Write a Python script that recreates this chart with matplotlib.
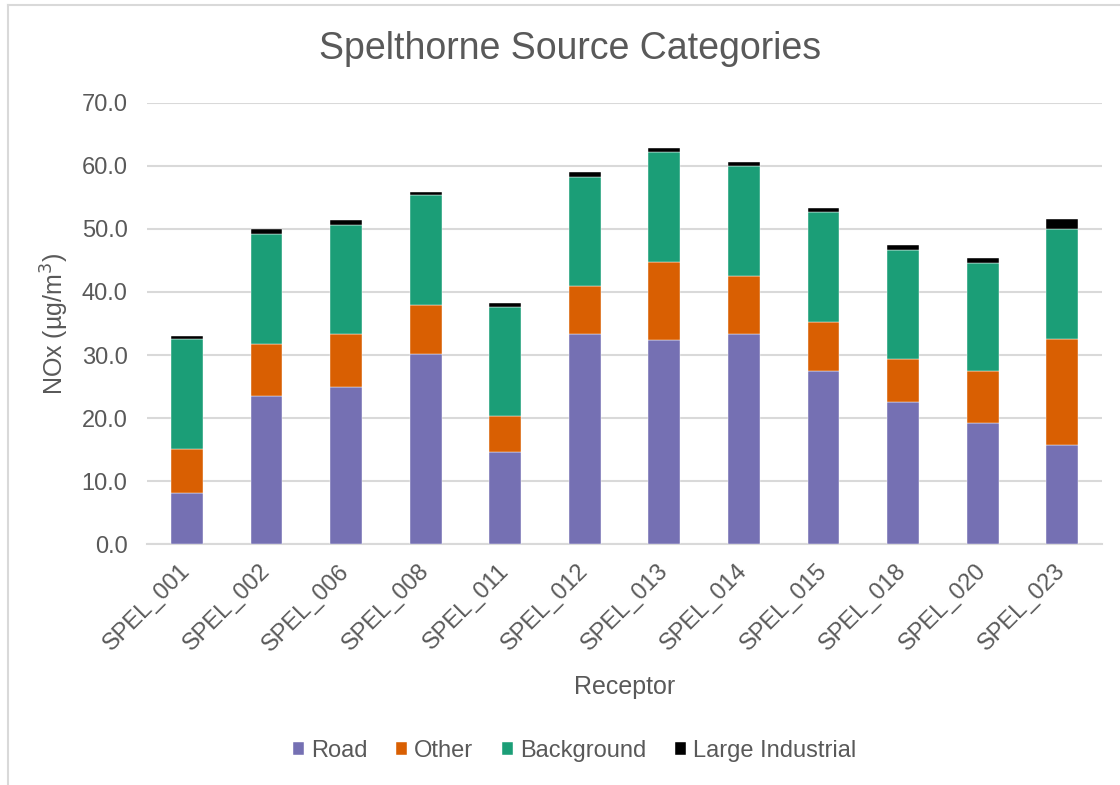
import matplotlib.pyplot as plt
import numpy as np
from matplotlib.lines import Line2D

plt.rcParams['font.family'] = ['Liberation Sans', 'DejaVu Sans']

receptors = ['SPEL_001', 'SPEL_002', 'SPEL_006', 'SPEL_008', 'SPEL_011', 'SPEL_012',
             'SPEL_013', 'SPEL_014', 'SPEL_015', 'SPEL_018', 'SPEL_020', 'SPEL_023']
road = [8.1, 23.5, 24.9, 30.2, 14.6, 33.4, 32.4, 33.3, 27.4, 22.5, 19.2, 15.8]
other = [7.0, 8.3, 8.5, 7.7, 5.8, 7.5, 12.4, 9.3, 7.9, 6.9, 8.2, 16.8]
background = [17.5, 17.4, 17.2, 17.4, 17.3, 17.3, 17.4, 17.4, 17.4, 17.3, 17.2, 17.4]
industrial = [0.4, 0.8, 0.8, 0.6, 0.6, 0.8, 0.6, 0.6, 0.6, 0.8, 0.8, 1.5]

series = [('Road', road, '#7570b3'), ('Other', other, '#d95f02'),
          ('Background', background, '#1b9e77'), ('Large Industrial', industrial, '#000000')]

txt = '#595959'
grid = '#d9d9d9'

fig = plt.figure(figsize=(11.2, 7.85), dpi=100)
ax = fig.add_axes([0.1313, 0.3066, 0.8527, 0.5625])

x = np.arange(len(receptors))
bottom = np.zeros(len(receptors))
for name, vals, col in series:
    ax.bar(x, vals, 0.4, bottom=bottom, color=col, label=name, zorder=3,
           edgecolor='white', linewidth=0.3)
    bottom += np.array(vals)

ax.set_xlim(-0.5, len(receptors) - 0.5)
ax.set_ylim(0, 70)
ax.set_yticks(np.arange(0, 71, 10))
ax.set_yticklabels([f'{v:.1f}' for v in np.arange(0, 71, 10)])
ax.yaxis.grid(True, color=grid, linewidth=1.5, zorder=0)
for s in ['top', 'right', 'left']:
    ax.spines[s].set_visible(False)
ax.spines['bottom'].set_color(grid)
ax.spines['bottom'].set_linewidth(1.5)
ax.tick_params(axis='both', length=0, labelsize=17, labelcolor=txt)
ax.tick_params(axis='y', pad=14)
ax.tick_params(axis='x', pad=17)
ax.set_xticks(x)
ax.set_xticklabels(receptors, rotation=45, ha='right', va='center', rotation_mode='anchor')

ax.set_ylabel('NOx (µg/m$^3$)', fontsize=18, color=txt, labelpad=8)
ax.set_xlabel('Receptor', fontsize=18, color=txt, labelpad=14)
fig.text(0.509, 0.938, 'Spelthorne Source Categories', fontsize=27, color=txt,
         ha='center', va='center')

fig.legend(loc='center', bbox_to_anchor=(0.513, 0.043), ncol=4, frameon=False,
           fontsize=17, labelcolor=txt, handlelength=0.47, handleheight=0.47,
           handletextpad=0.3, columnspacing=1.2)

# chart border
fig.add_artist(Line2D([8 / 1120, 1.0], [1 - 5 / 785] * 2, color=grid, linewidth=1.5))
fig.add_artist(Line2D([8 / 1120] * 2, [1 - 5 / 785, 0.0], color=grid, linewidth=1.5))

fig.savefig('out.png', dpi=100)
